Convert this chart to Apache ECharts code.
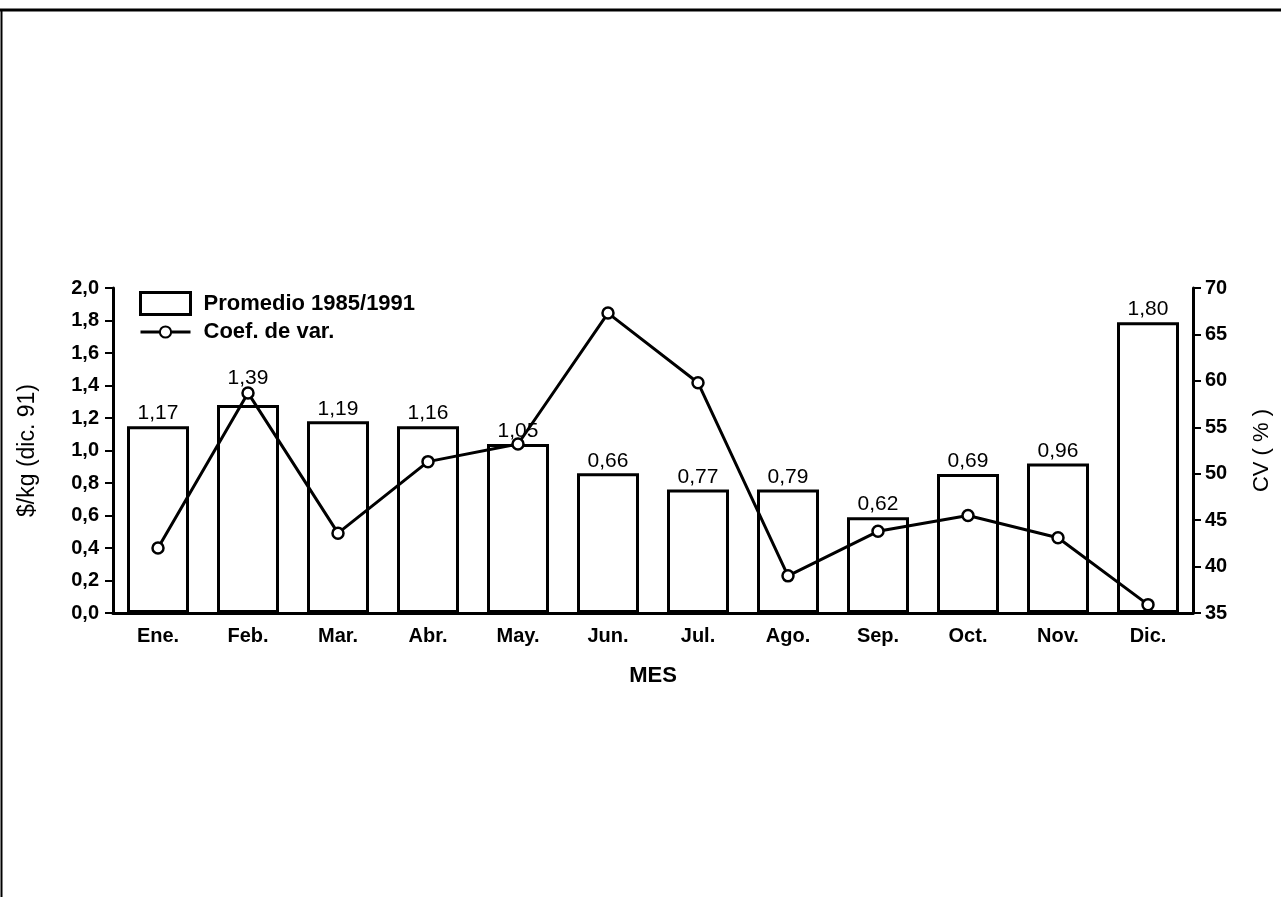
<!DOCTYPE html>
<html>
<head>
<meta charset="utf-8">
<script src="https://cdn.jsdelivr.net/npm/echarts@6/dist/echarts.min.js"></script>
<style>
html,body{margin:0;padding:0;background:#fff;}
#c{width:1281px;height:897px;}
</style>
</head>
<body>
<div id="c"></div>
<script>
const months = ['Ene.', 'Feb.', 'Mar.', 'Abr.', 'May.', 'Jun.', 'Jul.', 'Ago.', 'Sep.', 'Oct.', 'Nov.', 'Dic.'];
const promedio = [1.15, 1.28, 1.18, 1.15, 1.04, 0.86, 0.76, 0.76, 0.59, 0.855, 0.92, 1.79];
const barLabels = ['1,17', '1,39', '1,19', '1,16', '1,05', '0,66', '0,77', '0,79', '0,62', '0,69', '0,96', '1,80'];
const coefVar = [42.0, 58.7, 43.6, 51.3, 53.2, 67.3, 59.8, 39.0, 43.8, 45.5, 43.1, 35.9];

const FONT = '"Liberation Sans", Arial, Helvetica, sans-serif';
const chart = echarts.init(document.getElementById('c'), null, {renderer: 'canvas'});

const barData = promedio.map((v, i) => {
  const item = {value: v};
  if (i === 1) item.label = {distance: 16};
  return item;
});

chart.setOption({
  animation: false,
  backgroundColor: '#fff',
  textStyle: {fontFamily: FONT, color: '#000'},
  graphic: [
    {type: 'line', shape: {x1: 0, y1: 10, x2: 1281, y2: 10}, style: {stroke: '#000', lineWidth: 3}},
    {type: 'line', shape: {x1: 1.5, y1: 9, x2: 1.5, y2: 897}, style: {stroke: '#000', lineWidth: 2}}
  ],
  grid: {left: 113, right: 88, top: 288, bottom: 284, containLabel: false},
  legend: [
    {
      data: [{name: 'Promedio 1985/1991', icon: 'rect'}], orient: 'vertical', left: 139, top: 291, padding: 0,
      itemWidth: 50, itemHeight: 22,
      itemStyle: {borderWidth: 3, borderColor: '#000', color: '#fff'},
      textStyle: {fontFamily: FONT, fontWeight: 'bold', fontSize: 22, color: '#000', padding: [0, 0, 0, 8]},
      selectedMode: false
    },
    {
      data: ['Coef. de var.'], orient: 'vertical', left: 139, top: 321, padding: 0,
      itemWidth: 50, itemHeight: 14,
      lineStyle: {width: 3},
      textStyle: {fontFamily: FONT, fontWeight: 'bold', fontSize: 22, color: '#000', padding: [0, 0, 0, 8]},
      selectedMode: false
    }
  ],
  xAxis: {
    type: 'category', data: months,
    axisLine: {lineStyle: {color: '#000', width: 3}},
    axisTick: {show: false},
    axisLabel: {fontFamily: FONT, fontWeight: 'bold', fontSize: 20, color: '#000', margin: 13},
    name: 'MES', nameLocation: 'middle', nameGap: 52,
    nameTextStyle: {fontFamily: FONT, fontWeight: 'bold', fontSize: 22, color: '#000'}
  },
  yAxis: [
    {
      type: 'value', min: 0, max: 2, interval: 0.2, position: 'left',
      splitLine: {show: false},
      axisLine: {show: true, lineStyle: {color: '#000', width: 3}},
      axisTick: {show: true, length: 8, lineStyle: {color: '#000', width: 2}},
      axisLabel: {fontFamily: FONT, fontWeight: 'bold', fontSize: 20, color: '#000', margin: 14,
        formatter: v => v.toFixed(1).replace('.', ',')},
      name: '$/kg (dic. 91)', nameLocation: 'middle', nameGap: 74, nameRotate: 90,
      nameTextStyle: {fontFamily: FONT, fontSize: 23, color: '#000'}
    },
    {
      type: 'value', min: 35, max: 70, interval: 5, position: 'right',
      splitLine: {show: false},
      axisLine: {show: true, lineStyle: {color: '#000', width: 3}},
      axisTick: {show: true, length: 8, lineStyle: {color: '#000', width: 2}},
      axisLabel: {fontFamily: FONT, fontWeight: 'bold', fontSize: 20, color: '#000', margin: 12},
      name: 'CV ( % )', nameLocation: 'middle', nameGap: 58, nameRotate: 90,
      nameTextStyle: {fontFamily: FONT, fontSize: 22, color: '#000'}
    }
  ],
  series: [
    {
      name: 'Promedio 1985/1991', type: 'bar', yAxisIndex: 0,
      data: barData, barWidth: 62,
      itemStyle: {color: '#fff', borderColor: '#000', borderWidth: 3},
      label: {show: true, position: 'top', distance: 2, fontFamily: FONT, fontSize: 21, color: '#000',
        formatter: p => barLabels[p.dataIndex]}
    },
    {
      name: 'Coef. de var.', type: 'line', yAxisIndex: 1,
      data: coefVar, symbol: 'circle', symbolSize: 11, showSymbol: true,
      lineStyle: {color: '#000', width: 3},
      itemStyle: {color: '#fff', borderColor: '#000', borderWidth: 2.5},
      z: 5
    }
  ]
});
</script>
</body>
</html>
